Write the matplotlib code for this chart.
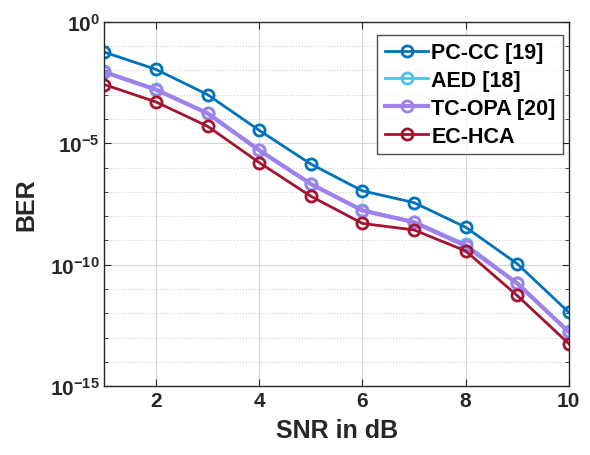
import matplotlib
matplotlib.use('Agg')
import matplotlib.pyplot as plt
import matplotlib.ticker as mticker
import math

plt.rcParams['font.family'] = ['Liberation Sans', 'DejaVu Sans']
plt.rcParams['font.weight'] = 'bold'
plt.rcParams['mathtext.fontset'] = 'custom'
plt.rcParams['mathtext.rm'] = 'Liberation Sans:bold'
plt.rcParams['mathtext.bf'] = 'Liberation Sans:bold'
plt.rcParams['mathtext.it'] = 'Liberation Sans:bold'

# ===== DANE =====
snr = [1, 2, 3, 4, 5, 6, 7, 8, 9, 10]
ber_pccc = [5.6e-2, 1.1e-2, 1.0e-3, 3.4e-5, 1.4e-6, 1.1e-7, 3.6e-8, 3.5e-9, 1.1e-10, 1.1e-12]
ber_aed = [9.0e-3, 1.7e-3, 1.8e-4, 5.5e-6, 2.2e-7, 1.8e-8, 6.0e-9, 7.0e-10, 1.8e-11, 1.8e-13]
ber_tcopa = [8.5e-3, 1.6e-3, 1.7e-4, 5.1e-6, 2.1e-7, 1.7e-8, 5.6e-9, 6.0e-10, 1.7e-11, 1.7e-13]
ber_echca = [2.6e-3, 5.0e-4, 5.0e-5, 1.6e-6, 6.6e-8, 5.0e-9, 2.7e-9, 3.7e-10, 5.4e-12, 5.6e-14]
labels = ['PC-CC [19]', 'AED [18]', 'TC-OPA [20]', 'EC-HCA']
xticks = [2, 4, 6, 8, 10]

fig = plt.figure(figsize=(5.9, 4.56), dpi=100)
ax = fig.add_axes([0.177, 0.151, 0.787, 0.799])

ax.semilogy(snr, ber_pccc, '-o', color='#0072BD', lw=2, ms=8, mew=2, mfc='none', label=labels[0])
ax.semilogy(snr, ber_aed, '-o', color='#4DBEEE', lw=2, ms=8, mew=2, mfc='none', label=labels[1])
ax.semilogy(snr, ber_tcopa, '-o', color='#9F80EC', lw=3, ms=8, mew=2, mfc='none', label=labels[2])
ax.semilogy(snr, ber_echca, '-o', color='#A2142F', lw=2, ms=8, mew=2, mfc='none', label=labels[3])

ax.set_xlim(1, 10)
ax.set_ylim(1e-15, 1e0)
ax.set_xticks(xticks)
ax.set_yticks([1e-15, 1e-10, 1e-5, 1e0])
ax.yaxis.set_minor_locator(mticker.FixedLocator([10.0**k for k in range(-15, 1)]))
ax.yaxis.set_minor_formatter(mticker.NullFormatter())
ax.yaxis.set_major_formatter(mticker.FuncFormatter(lambda v, p: r'$\mathbf{10^{%d}}$' % round(math.log10(v))))

ax.grid(True, which='major', color='#d8d8d8', lw=0.8)
ax.grid(True, which='minor', axis='y', color='#d0d0d0', lw=0.8, linestyle=':')
ax.set_axisbelow(True)

ax.tick_params(which='both', direction='in', top=True, right=True, colors='#262626', labelsize=15)
ax.tick_params(which='major', length=5)
ax.tick_params(which='minor', length=3)
for s in ax.spines.values():
    s.set_color('#262626')
    s.set_linewidth(1)

ax.set_xlabel('SNR in dB', fontsize=18, fontweight='bold', color='#262626', labelpad=6)
ax.set_ylabel('BER', fontsize=18, fontweight='bold', color='#262626', labelpad=8)

leg = ax.legend(loc='upper right', fontsize=15.5, frameon=True, fancybox=False,
                edgecolor='#262626', handlelength=2.0, handletextpad=0.15,
                borderpad=0.35, labelspacing=0.32, borderaxespad=0,
                bbox_to_anchor=(0.988, 0.965))
leg.get_frame().set_linewidth(1)

plt.savefig('out.png', dpi=100)
